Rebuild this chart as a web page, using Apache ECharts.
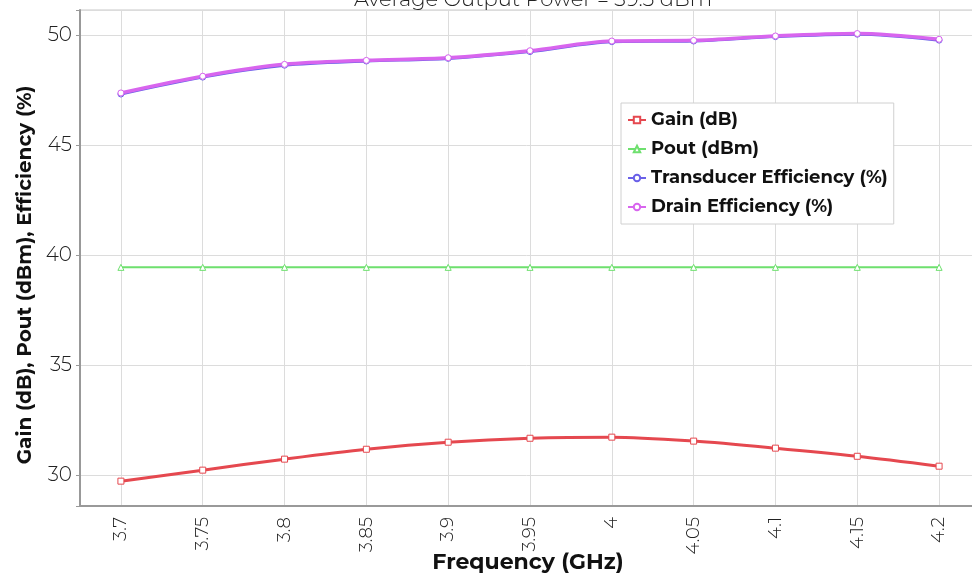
<!DOCTYPE html>
<html>
<head>
<meta charset="utf-8">
<script src="https://cdn.jsdelivr.net/npm/echarts@6/dist/echarts.min.js"></script>
<style>
html, body { margin: 0; padding: 0; background: #fff; }
#chart { width: 972px; height: 577px; }
</style>
</head>
<body>
<div id="chart"></div>
<script>
// 频率 (GHz)
var freq = ['3.7', '3.75', '3.8', '3.85', '3.9', '3.95', '4', '4.05', '4.1', '4.15', '4.2'];
var gain = [29.73, 30.23, 30.73, 31.18, 31.5, 31.68, 31.73, 31.55, 31.23, 30.86, 30.41];
var pout = [39.45, 39.45, 39.45, 39.45, 39.45, 39.45, 39.45, 39.45, 39.45, 39.45, 39.45];
var transEff = [47.33, 48.1, 48.64, 48.83, 48.95, 49.26, 49.71, 49.74, 49.94, 50.05, 49.78];
var drainEff = [47.38, 48.14, 48.68, 48.86, 48.98, 49.3, 49.74, 49.77, 49.97, 50.08, 49.82];
var yTicks = [30, 35, 40, 45, 50];

var labelFont = 'Montserrat, "Noto Sans", sans-serif';
var gridColor = '#dcdcdc';

var lineSeries = function(name, data, color, symbol, width) {
	return {
		name: name,
		type: 'line',
		data: data,
		smooth: 0.3,
		symbol: symbol,
		symbolSize: 6,
		showAllSymbol: true,
		itemStyle: { color: '#fff', borderColor: color, borderWidth: 1 },
		lineStyle: { color: color, width: width },
		emphasis: { disabled: true }
	};
};

var myChart = echarts.init(document.getElementById('chart'));
var option = {
	backgroundColor: '#fff',
	animation: false,
	title: [{
		text: 'Average Output Power = 39.5 dBm',
		left: 528,
		textAlign: 'center',
		top: -16,
		textStyle: { fontFamily: labelFont, fontWeight: 300, fontSize: 21, color: '#222' }
	}, {
		// x轴标题
		text: 'Frequency (GHz)',
		left: 528,
		textAlign: 'center',
		top: 552,
		padding: 0,
		textStyle: { fontFamily: labelFont, fontWeight: 'bold', fontSize: 22, color: '#111' }
	}],
	legend: {
		orient: 'vertical',
		left: 621,
		top: 103,
		padding: [8, 6, 8, 6],
		itemGap: 11,
		itemWidth: 18,
		itemHeight: 8,
		backgroundColor: '#fff',
		borderColor: '#d0d0d0',
		borderWidth: 1,
		textStyle: { fontFamily: labelFont, fontWeight: 'bold', fontSize: 18, color: '#111' },
		data: ['Gain (dB)', 'Pout (dBm)', 'Transducer Efficiency (%)', 'Drain Efficiency (%)']
	},
	grid: {
		left: 80,
		top: 10,
		width: 900,
		height: 496,
		outerBoundsMode: 'none',
		containLabel: false,
		show: true,
		borderColor: '#c8c8c8',
		borderWidth: 1
	},
	xAxis: {
		type: 'category',
		data: freq,
		boundaryGap: true,
		axisLine: { lineStyle: { color: '#999', width: 2 } },
		axisTick: { alignWithLabel: true, length: 5, lineStyle: { color: '#999' } },
		axisLabel: { rotate: 90, fontFamily: labelFont, fontWeight: 300, fontSize: 18, color: '#222', margin: 11 },
		splitLine: { show: true, alignWithLabel: true, lineStyle: { color: gridColor } }
	},
	yAxis: {
		type: 'value',
		min: 28.6,
		max: 51.15,
		splitNumber: 5,
		name: 'Gain (dB), Pout (dBm), Efficiency (%)',
		nameLocation: 'middle',
		nameGap: 41,
		nameTextStyle: { fontFamily: labelFont, fontWeight: 'bold', fontSize: 20, color: '#111', padding: [0, 34, 0, 0] },
		axisLine: { show: true, lineStyle: { color: '#999', width: 2 } },
		axisTick: { show: true, length: 4, lineStyle: { color: '#999' } },
		axisLabel: {
			fontFamily: labelFont, fontWeight: 300, fontSize: 20, color: '#222', margin: 8,
			formatter: function(v) { return yTicks.indexOf(v) >= 0 ? String(v) : ''; }
		},
		splitLine: { lineStyle: { color: gridColor } }
	},
	series: [
		lineSeries('Gain (dB)', gain, '#e5484f', 'rect', 3),
		lineSeries('Pout (dBm)', pout, '#6ee06e', 'triangle', 2),
		lineSeries('Transducer Efficiency (%)', transEff, '#6a60e8', 'circle', 3),
		lineSeries('Drain Efficiency (%)', drainEff, '#d865ee', 'circle', 3.5)
	]
};
myChart.setOption(option);
</script>
</body>
</html>
